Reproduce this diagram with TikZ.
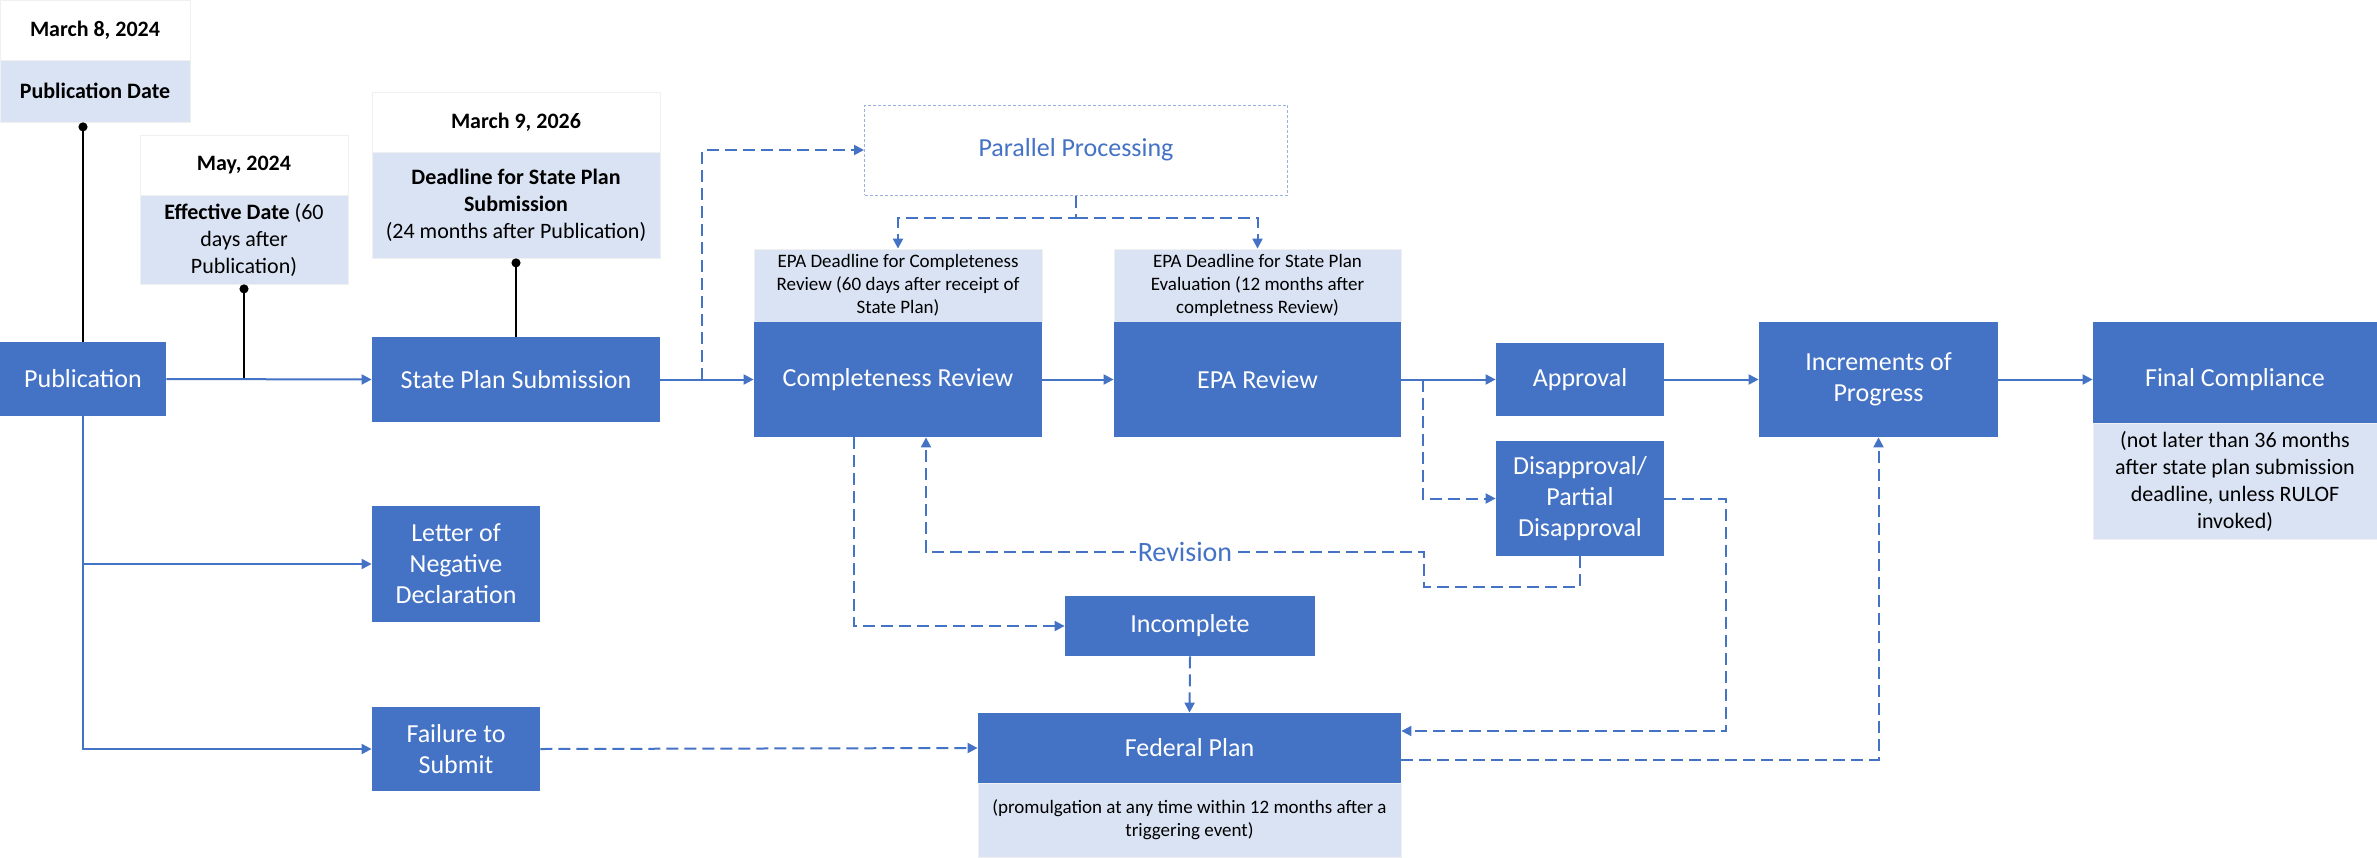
\documentclass[tikz,border=0pt]{standalone}
\usepackage{fontspec}
\setmainfont{Carlito}
\usetikzlibrary{arrows.meta,calc}
\definecolor{epablue}{HTML}{4472C4}
\definecolor{epapale}{HTML}{DAE3F3}

\begin{document}
\begin{tikzpicture}[x=0.5pt,y=-0.5pt,
    blk/.style={fill=epablue,text=white,inner sep=0pt,align=center,font=\fontsize{13}{15.5}\selectfont},
    pale/.style={fill=epapale,draw=gray!12,inner sep=0pt,align=center},
    datehead/.style={fill=white,draw=gray!12,inner sep=0pt,font=\bfseries\fontsize{11}{13.5}\selectfont},
    datenote/.style={pale,font=\fontsize{11}{13.5}\selectfont},
    dlnote/.style={pale,font=\fontsize{9.5}{11.5}\selectfont},
    flow/.style={epablue,line width=1pt,-{Triangle[length=5pt,width=5pt]}},
    alt/.style={flow,dash pattern=on 6pt off 3pt},
    pin/.style={black,line width=0.8pt,{Circle[length=4.5pt]}-}]
    \useasboundingbox (0,0) rectangle (2377,857);
    % dates
    \node[datehead,minimum width=95pt,minimum height=30pt] (pubdatehead) at (95,30) {March 8, 2024};
    \node[datenote,minimum width=95pt,minimum height=31pt,font=\bfseries\fontsize{11}{13.5}\selectfont] (pubdate) at (95,91) {Publication Date};
    \node[datehead,minimum width=104pt,minimum height=30pt] (effdatehead) at (244,165) {May, 2024};
    \node[datenote,minimum width=104pt,minimum height=44.5pt] (effdate) at (244,239.5) {\textbf{Effective Date} (60\\days after\\Publication)};
    \node[datehead,minimum width=144pt,minimum height=30pt] (subdatehead) at (516,122) {March 9, 2026};
    \node[datenote,minimum width=144pt,minimum height=53pt] (subdate) at (516,205) {\textbf{Deadline for State Plan}\\\textbf{Submission}\\(24 months after Publication)};
    % steps
    \node[blk,minimum width=83pt,minimum height=37pt] (pub) at (83,379) {Publication};
    \node[blk,minimum width=144pt,minimum height=42.5pt] (sps) at (516,379.5) {State Plan Submission};
    \node[blk,minimum width=84pt,minimum height=58pt] (lnd) at (456,564) {Letter of\\Negative\\Declaration};
    \node[blk,minimum width=84pt,minimum height=42pt] (fail) at (456,749) {Failure to\\Submit};
    \node[draw=epablue!55,dash pattern=on 1.5pt off 1pt,line width=0.5pt,text=epablue,minimum width=211.5pt,minimum height=45pt,font=\fontsize{13}{15.5}\selectfont] (pp) at (1076,150) {Parallel Processing};
    \node[dlnote,minimum width=144pt,minimum height=36.5pt] (crdead) at (898,285.5) {EPA Deadline for Completeness\\Review (60 days after receipt of\\State Plan)};
    \node[blk,minimum width=144pt,minimum height=57.5pt] (cr) at (898,379.5) {Completeness Review};
    \node[dlnote,minimum width=143.5pt,minimum height=36.5pt] (epadead) at (1257.5,285.5) {EPA Deadline for State Plan\\Evaluation (12 months after\\completness Review)};
    \node[blk,minimum width=143.5pt,minimum height=57.5pt] (epa) at (1257.5,379.5) {EPA Review};
    \node[blk,minimum width=84pt,minimum height=36.5pt] (appr) at (1580,379.5) {Approval};
    \node[blk,minimum width=84pt,minimum height=57.5pt] (disap) at (1580,498.5) {Disapproval/\\Partial\\Disapproval};
    \node[blk,minimum width=119.5pt,minimum height=57.5pt] (incr) at (1878.5,379.5) {Increments of\\Progress};
    \node[blk,minimum width=142pt,minimum height=57.5pt] (final) at (2235,379.5) {Final Compliance};
    \node[datenote,minimum width=142pt,minimum height=58pt] (finalnote) at (2235,481) {(not later than 36 months\\after state plan submission\\deadline, unless RULOF\\invoked)};
    \node[blk,minimum width=125pt,minimum height=30pt] (incomp) at (1190,626) {Incomplete};
    \node[blk,minimum width=211.5pt,minimum height=35pt] (fed) at (1189.5,748) {Federal Plan};
    \node[dlnote,minimum width=211.5pt,minimum height=37pt] (fednote) at (1189.5,820) {(promulgation at any time within 12 months after a\\triggering event)};
    % timeline pins
    \draw[pin] (pubdate.south -| pub.north) -- (pub.north);
    \draw[pin] (effdate.south) -- (effdate.south |- pub.east);
    \draw[pin] (subdate.south) -- (sps.north);
    % main flow
    \draw[flow] (pub.east) -- (sps.west);
    \draw[flow] (pub.south) |- (lnd.west);
    \draw[flow] (pub.south) |- (fail.west);
    \draw[flow] (sps.east) -- (cr.west);
    \draw[flow] (cr.east) -- (epa.west);
    \draw[flow] (epa.east) -- (appr.west);
    \draw[flow] (appr.east) -- (incr.west);
    \draw[flow] (incr.east) -- (final.west);
    % alternative paths
    \coordinate (spsfork) at ($(sps.east)!0.45!(cr.west)$);
    \coordinate (ppfork) at ($(pp.south)+(0,22)$);
    \coordinate (epafork) at ($(epa.east)+(22,0)$);
    \coordinate (revlow) at ($(disap.south)+(0,31)$);
    \coordinate (revbend) at (1424,552);
    \coordinate (revfoot) at ($(cr.south |- revbend)+(28,0)$);
    \coordinate (disapturn) at ($(disap.east)+(62,0)$);
    \coordinate (fedin) at ($(fed.east)+(0,-17)$);
    \coordinate (fedout) at ($(fed.east)+(0,12)$);
    \draw[alt] (spsfork) |- (pp.west);
    \draw[alt] (pp.south) -- (ppfork) -| (crdead.north);
    \draw[alt] (ppfork) -| (epadead.north);
    \draw[alt] (epafork) |- (disap.west);
    \draw[alt] ($(cr.south)+(-44,0)$) |- (incomp.west);
    \draw[alt] (disap.south) -- (revlow) -| (revbend) -- node[pos=0.48,fill=white,text=epablue,inner sep=1pt,font=\fontsize{14}{16}\selectfont] {Revision} (revfoot) -- (revfoot |- cr.south);
    \draw[alt] (disap.east) -- (disapturn) |- (fedin);
    \draw[alt] (incomp.south) -- (fed.north);
    \draw[alt] (fail.east) -- (fed.west);
    \draw[alt] (fedout) -| (incr.south);
\end{tikzpicture}
\end{document}
